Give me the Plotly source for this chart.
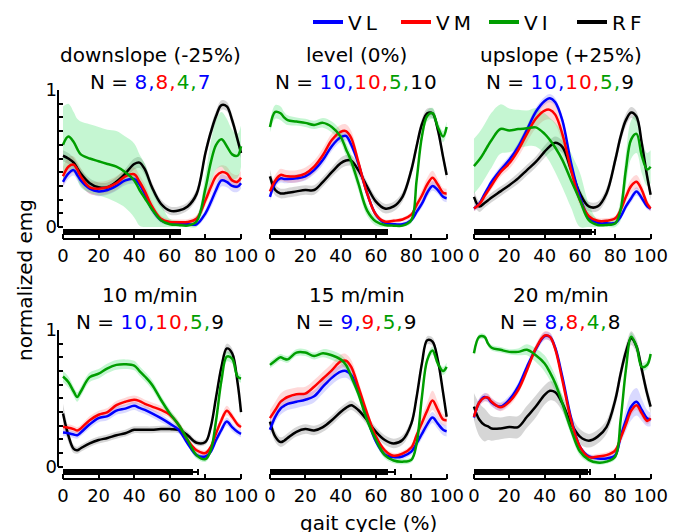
import plotly.graph_objects as go

# ---------------- data ----------------
X = [0, 3, 6, 8, 10, 15, 20, 25, 30, 35, 40, 43, 46, 50, 55, 60, 65, 70, 75, 80, 83, 86, 89, 92, 95, 98, 100]

TITLES = ["downslope (-25%)", "level (0%)", "upslope (+25%)", "10 m/min", "15 m/min", "20 m/min"]
N_COUNTS = [[8, 8, 4, 7], [10, 10, 5, 10], [10, 10, 5, 9], [10, 10, 5, 9], [9, 9, 5, 9], [8, 8, 4, 8]]
MUSCLES = ["VL", "VM", "VI", "RF"]

STANCE_MEAN = [65.7, 66.0, 66.6, 73.2, 67.0, 64.8]
STANCE_SD = [0.3, 0.3, 1.9, 2.8, 3.7, 0.8]

# downslope
DOWN_VL = [.33, .39, .415, .38, .34, .28, .26, .27, .30, .34, .35, .31, .24, .13, .05, .03, .02, .02, .02, .10, .18, .27, .34, .33, .30, .295, .32]
DOWN_VM = [.37, .44, .455, .42, .37, .29, .28, .29, .32, .37, .385, .33, .26, .15, .06, .037, .035, .037, .06, .195, .29, .37, .40, .39, .34, .33, .36]
DOWN_VI = [.60, .66, .62, .57, .53, .50, .48, .46, .44, .40, .34, .27, .21, .13, .05, .02, .015, .01, .04, .28, .47, .60, .64, .59, .53, .52, .59]
DOWN_RF = [.52, .50, .47, .43, .39, .32, .29, .29, .33, .39, .46, .47, .42, .29, .17, .12, .12, .15, .24, .54, .69, .81, .89, .88, .78, .64, .54]
DOWN_VL_SD = [.04, .04, .04, .04, .04, .035, .035, .035, .035, .035, .035, .035, .035, .03, .02, .015, .015, .015, .015, .03, .04, .045, .045, .04, .04, .04, .04]
DOWN_VM_SD = [.07, .07, .06, .06, .06, .05, .05, .05, .05, .05, .05, .05, .05, .04, .025, .02, .02, .02, .025, .04, .05, .05, .05, .05, .05, .05, .05]
DOWN_VI_SD = [.28, .24, .22, .22, .24, .25, .25, .25, .26, .26, .27, .26, .25, .17, .12, .04, .03, .03, .04, .10, .15, .18, .20, .20, .18, .16, .15]
DOWN_RF_SD = [.04, .04, .035, .035, .035, .035, .035, .035, .035, .035, .04, .04, .04, .035, .03, .03, .03, .03, .035, .04, .04, .04, .035, .035, .04, .04, .04]

# level
LEVEL_VL = [.22, .32, .355, .35, .35, .355, .37, .415, .49, .59, .655, .665, .60, .465, .245, .09, .03, .02, .02, .05, .11, .17, .25, .30, .27, .22, .21]
LEVEL_VM = [.26, .34, .38, .375, .37, .37, .39, .44, .525, .635, .695, .70, .65, .475, .245, .09, .04, .045, .055, .09, .16, .23, .31, .36, .31, .25, .245]
LEVEL_VI = [.73, .84, .83, .80, .78, .77, .76, .745, .76, .73, .66, .57, .48, .32, .12, .04, .015, .01, .01, .05, .34, .66, .81, .83, .73, .66, .73]
LEVEL_RF = [.37, .27, .245, .245, .25, .26, .27, .27, .33, .40, .465, .485, .485, .415, .295, .185, .135, .15, .22, .415, .59, .75, .83, .83, .71, .51, .38]
LEVEL_VL_SD = [.03, .03, .03, .03, .03, .03, .03, .03, .035, .035, .035, .035, .035, .03, .03, .02, .015, .015, .015, .02, .025, .03, .035, .035, .03, .03, .03]
LEVEL_VM_SD = [.04, .04, .045, .045, .045, .045, .045, .045, .05, .05, .05, .05, .05, .04, .03, .02, .015, .015, .015, .02, .03, .04, .05, .05, .04, .035, .035]
LEVEL_VI_SD = [.04, .05, .05, .04, .035, .03, .03, .03, .035, .04, .045, .05, .05, .05, .04, .03, .02, .015, .015, .02, .04, .04, .04, .04, .04, .04, .04]
LEVEL_RF_SD = [.05, .04, .035, .035, .035, .035, .035, .035, .035, .035, .04, .04, .04, .04, .035, .035, .035, .035, .035, .04, .04, .04, .035, .035, .04, .04, .04]

# upslope
UP_VL = [.135, .17, .24, .285, .33, .415, .49, .585, .71, .84, .92, .94, .91, .78, .465, .22, .07, .03, .027, .03, .075, .15, .21, .26, .21, .15, .135]
UP_VM = [.135, .165, .225, .265, .305, .40, .465, .56, .68, .79, .85, .855, .82, .68, .415, .195, .08, .045, .045, .063, .125, .22, .30, .33, .27, .17, .135]
UP_VI = [.445, .49, .55, .595, .635, .715, .705, .715, .72, .727, .68, .635, .58, .49, .34, .195, .05, .015, .015, .027, .125, .42, .64, .68, .52, .42, .44]
UP_RF = [.22, .15, .175, .195, .215, .26, .305, .355, .415, .475, .55, .59, .615, .585, .415, .245, .15, .15, .245, .49, .66, .78, .835, .805, .61, .37, .235]
UP_VL_SD = [.02, .02, .025, .025, .025, .03, .03, .03, .03, .03, .03, .03, .03, .03, .03, .025, .02, .015, .015, .015, .02, .025, .03, .03, .025, .02, .02]
UP_VM_SD = [.02, .025, .03, .03, .03, .035, .04, .05, .06, .07, .07, .07, .07, .06, .05, .04, .03, .02, .02, .02, .03, .04, .05, .05, .04, .03, .02]
UP_VI_SD = [.20, .20, .20, .20, .20, .18, .16, .14, .13, .14, .15, .16, .18, .20, .20, .20, .12, .04, .04, .05, .08, .12, .14, .14, .13, .12, .12]
UP_RF_SD = [.05, .04, .035, .035, .035, .035, .035, .04, .04, .04, .045, .045, .045, .045, .04, .035, .035, .035, .04, .045, .045, .045, .04, .04, .04, .04, .04]

# 10 m/min
M10_VL = [.25, .245, .235, .23, .25, .31, .355, .37, .41, .425, .445, .43, .415, .39, .355, .315, .27, .17, .085, .075, .11, .195, .27, .33, .29, .255, .24]
M10_VM = [.29, .285, .275, .265, .28, .34, .38, .40, .45, .475, .49, .48, .46, .44, .415, .38, .305, .195, .12, .10, .145, .245, .34, .41, .365, .31, .29]
M10_VI = [.66, .62, .55, .51, .55, .655, .68, .72, .745, .75, .74, .70, .66, .60, .49, .39, .305, .195, .085, .055, .12, .34, .63, .805, .79, .66, .645]
M10_RF = [.39, .23, .13, .12, .135, .17, .195, .21, .23, .245, .27, .27, .27, .27, .275, .275, .27, .23, .175, .18, .29, .51, .73, .865, .83, .62, .40]
M10_VL_SD = [.025, .025, .025, .025, .025, .03, .03, .03, .03, .03, .03, .03, .03, .03, .03, .025, .025, .02, .02, .02, .02, .025, .03, .03, .03, .025, .025]
M10_VM_SD = [.025, .025, .025, .025, .025, .03, .03, .03, .03, .03, .03, .03, .03, .03, .03, .025, .025, .02, .02, .02, .02, .025, .03, .035, .03, .025, .025]
M10_VI_SD = [.04, .04, .035, .035, .035, .035, .035, .035, .035, .035, .035, .035, .035, .035, .03, .03, .03, .03, .025, .02, .02, .03, .035, .035, .035, .03, .03]
M10_RF_SD = [.07, .05, .03, .025, .025, .025, .025, .025, .025, .025, .025, .025, .025, .025, .025, .025, .025, .025, .02, .02, .025, .03, .035, .035, .035, .035, .035]

# 15 m/min
M15_VL = [.27, .365, .425, .445, .46, .475, .49, .515, .585, .65, .695, .70, .67, .55, .355, .185, .09, .07, .075, .11, .17, .24, .31, .36, .315, .27, .26]
M15_VM = [.355, .415, .475, .495, .51, .53, .535, .585, .645, .705, .77, .775, .73, .585, .39, .22, .12, .08, .095, .14, .23, .32, .41, .485, .415, .345, .34]
M15_VI = [.745, .775, .80, .79, .785, .835, .835, .81, .83, .815, .785, .745, .66, .535, .34, .195, .085, .045, .037, .05, .17, .51, .78, .85, .755, .70, .73]
M15_RF = [.33, .22, .18, .19, .21, .255, .275, .265, .29, .34, .40, .43, .45, .415, .34, .255, .195, .17, .195, .315, .51, .755, .925, .915, .78, .54, .365]
M15_VL_SD = [.04, .04, .045, .045, .045, .045, .045, .045, .05, .05, .05, .05, .05, .04, .03, .025, .02, .02, .02, .025, .03, .035, .04, .04, .04, .04, .04]
M15_VM_SD = [.06, .06, .06, .06, .055, .05, .05, .05, .05, .05, .05, .05, .05, .045, .035, .025, .02, .02, .02, .025, .035, .05, .06, .07, .06, .04, .04]
M15_VI_SD = [.025, .025, .025, .025, .025, .025, .025, .025, .03, .035, .035, .035, .035, .035, .03, .03, .025, .02, .02, .02, .025, .03, .03, .03, .03, .03, .03]
M15_RF_SD = [.04, .04, .035, .035, .035, .035, .035, .035, .035, .035, .035, .035, .035, .035, .035, .035, .035, .035, .035, .035, .035, .035, .03, .03, .03, .03, .03]

# 20 m/min
M20_VL = [.36, .47, .51, .50, .47, .44, .49, .585, .73, .86, .955, .95, .87, .66, .355, .145, .075, .06, .06, .085, .22, .34, .44, .475, .415, .355, .345]
M20_VM = [.365, .47, .505, .505, .475, .435, .475, .56, .705, .865, .96, .95, .86, .635, .34, .145, .07, .075, .085, .12, .21, .31, .41, .45, .39, .335, .355]
M20_VI = [.83, .95, .95, .90, .87, .855, .84, .84, .855, .815, .755, .69, .61, .465, .27, .11, .05, .03, .037, .075, .34, .71, .95, .88, .73, .745, .825]
M20_RF = [.44, .345, .305, .295, .28, .28, .29, .29, .365, .44, .525, .555, .545, .465, .315, .22, .19, .22, .29, .49, .68, .84, .94, .88, .71, .535, .44]
M20_VL_SD = [.03, .03, .03, .03, .03, .03, .03, .03, .03, .03, .03, .03, .03, .03, .03, .02, .02, .02, .02, .025, .05, .08, .10, .10, .08, .06, .05]
M20_VM_SD = [.025, .03, .03, .03, .03, .03, .03, .03, .03, .03, .03, .03, .03, .03, .03, .02, .02, .02, .02, .02, .025, .03, .035, .035, .03, .025, .025]
M20_VI_SD = [.02, .02, .02, .02, .02, .02, .02, .025, .04, .05, .06, .06, .06, .05, .04, .03, .02, .015, .015, .02, .025, .03, .03, .03, .03, .03, .03]
M20_RF_SD = [.10, .12, .12, .10, .09, .08, .08, .08, .08, .08, .07, .07, .07, .06, .06, .055, .05, .05, .05, .05, .05, .05, .05, .05, .05, .05, .05]

MEANS = [
    {"VL": DOWN_VL, "VM": DOWN_VM, "VI": DOWN_VI, "RF": DOWN_RF},
    {"VL": LEVEL_VL, "VM": LEVEL_VM, "VI": LEVEL_VI, "RF": LEVEL_RF},
    {"VL": UP_VL, "VM": UP_VM, "VI": UP_VI, "RF": UP_RF},
    {"VL": M10_VL, "VM": M10_VM, "VI": M10_VI, "RF": M10_RF},
    {"VL": M15_VL, "VM": M15_VM, "VI": M15_VI, "RF": M15_RF},
    {"VL": M20_VL, "VM": M20_VM, "VI": M20_VI, "RF": M20_RF},
]
SDS = [
    {"VL": DOWN_VL_SD, "VM": DOWN_VM_SD, "VI": DOWN_VI_SD, "RF": DOWN_RF_SD},
    {"VL": LEVEL_VL_SD, "VM": LEVEL_VM_SD, "VI": LEVEL_VI_SD, "RF": LEVEL_RF_SD},
    {"VL": UP_VL_SD, "VM": UP_VM_SD, "VI": UP_VI_SD, "RF": UP_RF_SD},
    {"VL": M10_VL_SD, "VM": M10_VM_SD, "VI": M10_VI_SD, "RF": M10_RF_SD},
    {"VL": M15_VL_SD, "VM": M15_VM_SD, "VI": M15_VI_SD, "RF": M15_RF_SD},
    {"VL": M20_VL_SD, "VM": M20_VM_SD, "VI": M20_VI_SD, "RF": M20_RF_SD},
]

# ---------------- styling ----------------
FONT = "DejaVu Sans"
COLORS = {"VL": "#0000ff", "VM": "#ff0000", "VI": "#009e00", "RF": "#000000"}
BANDS = {"VL": "rgba(0,0,255,0.15)", "VM": "rgba(255,0,0,0.15)",
         "VI": "rgba(40,220,90,0.27)", "RF": "rgba(0,0,0,0.16)"}
N_LAST_COLOR = ["#0000ff", "#000000", "#000000", "#000000", "#000000", "#000000"]
DRAW_ORDER = ["RF", "VL", "VM", "VI"]

W, H = 680, 532
COL_PX = [(58, 243.7), (265, 449.3), (469, 653.3)]
ROW_PX = [(90, 239), (330, 479)]
Y_RANGES = [(-0.0876, 1.0), (-0.09, 1.0)]
X_RANGE = (-2.8, 101.5)
STANCE_Y = -0.038

fig = go.Figure()
layout = {}
shapes = []
annotations = []

for i in range(6):
    r, c = divmod(i, 3)
    sfx = "" if i == 0 else str(i + 1)
    xa, ya = "x" + sfx, "y" + sfx
    # bands
    for m in DRAW_ORDER:
        mean, sd = MEANS[i][m], SDS[i][m]
        lo = [max(0.0, a - b) for a, b in zip(mean, sd)]
        hi = [a + b for a, b in zip(mean, sd)]
        fig.add_trace(go.Scatter(x=X, y=lo, xaxis=xa, yaxis=ya, mode="lines",
                                 line=dict(width=0, shape="spline", color=BANDS[m]),
                                 showlegend=False, hoverinfo="skip"))
        fig.add_trace(go.Scatter(x=X, y=hi, xaxis=xa, yaxis=ya, mode="lines",
                                 line=dict(width=0, shape="spline", color=BANDS[m]),
                                 fill="tonexty", fillcolor=BANDS[m],
                                 showlegend=False, hoverinfo="skip"))
    # mean lines
    for m in DRAW_ORDER:
        fig.add_trace(go.Scatter(x=X, y=MEANS[i][m], xaxis=xa, yaxis=ya, mode="lines",
                                 line=dict(width=2.5, shape="spline", color=COLORS[m]),
                                 name=m, showlegend=False))
    # stance bar
    fig.add_trace(go.Bar(x=[STANCE_MEAN[i]], y=[STANCE_Y], base=0, orientation="h",
                         width=0.04, xaxis=xa, yaxis=ya, marker=dict(color="black", line=dict(width=0)),
                         error_x=dict(type="data", array=[STANCE_SD[i]], color="black",
                                      thickness=2, width=3),
                         showlegend=False, hoverinfo="skip"))

    x0, x1 = COL_PX[c]
    y0, y1 = ROW_PX[r]
    xkey = "xaxis" + sfx
    ykey = "yaxis" + sfx
    layout[xkey] = dict(domain=[x0 / W, x1 / W], anchor=ya, range=list(X_RANGE),
                        tickvals=[0, 20, 40, 60, 80, 100], ticks="inside", ticklen=5,
                        tickwidth=1.5, tickcolor="black", showline=False, showgrid=False,
                        zeroline=False, tickfont=dict(family=FONT, size=18, color="black"),
                        ticklabelstandoff=4, automargin=False)
    if c == 0:
        layout[ykey] = dict(domain=[1 - y1 / H, 1 - y0 / H], anchor=xa, range=list(Y_RANGES[r]),
                            tickvals=[0, 1], ticktext=["0", "1"], ticks="inside", ticklen=5,
                            tickwidth=1.5, tickcolor="black", showline=False, showgrid=False,
                            zeroline=False, tickfont=dict(family=FONT, size=18, color="black"),
                            automargin=False,
                            minor=dict(tickmode="array",
                                       tickvals=[0.1, 0.2, 0.3, 0.4, 0.5, 0.6, 0.7, 0.8, 0.9],
                                       ticks="inside", ticklen=5, tickwidth=1.5, tickcolor="black",
                                       showgrid=False))
        shapes.append(dict(type="line", xref=xa + " domain", yref=ya, x0=0, x1=0, y0=0, y1=1,
                           line=dict(color="black", width=2)))
    else:
        layout[ykey] = dict(domain=[1 - y1 / H, 1 - y0 / H], anchor=xa, range=list(Y_RANGES[r]),
                            showticklabels=False, ticks="", showline=False, showgrid=False,
                            zeroline=False, automargin=False)
    shapes.append(dict(type="line", xref=xa, yref=ya + " domain", x0=0, x1=100, y0=0, y1=0,
                       line=dict(color="black", width=2)))

    # titles
    cx = x0 + (49 - X_RANGE[0]) / (X_RANGE[1] - X_RANGE[0]) * (x1 - x0)
    ty = 55 if r == 0 else 295
    ny = 82 if r == 0 else 322
    annotations.append(dict(text=TITLES[i], x=cx / W, y=1 - ty / H, xref="paper", yref="paper",
                            xanchor="center", yanchor="middle", showarrow=False,
                            font=dict(family=FONT, size=20, color="black")))
    n = N_COUNTS[i]
    sp = "letter-spacing:1px;"
    ntxt = ("N = "
            + f'<span style="{sp}color:{COLORS["VL"]}">{n[0]},</span>'
            + f'<span style="{sp}color:{COLORS["VM"]}">{n[1]},</span>'
            + f'<span style="{sp}color:{COLORS["VI"]}">{n[2]},</span>'
            + f'<span style="{sp}color:{N_LAST_COLOR[i]}">{n[3]}</span>')
    annotations.append(dict(text=ntxt, x=cx / W, y=1 - ny / H, xref="paper", yref="paper",
                            xanchor="center", yanchor="middle", showarrow=False,
                            font=dict(family=FONT, size=20, color="black")))

# legend entries
for m in MUSCLES:
    fig.add_trace(go.Scatter(x=[None], y=[None], mode="lines",
                             name=f'<span style="letter-spacing:4px">{m}</span>',
                             line=dict(color=COLORS[m], width=4), showlegend=True))

annotations.append(dict(text="normalized emg", x=25 / W, y=1 - 280 / H, xref="paper", yref="paper",
                        textangle=-90, xanchor="center", yanchor="middle", showarrow=False,
                        font=dict(family=FONT, size=20, color="black")))
annotations.append(dict(text="gait cycle (%)", x=368 / W, y=1 - 523 / H, xref="paper", yref="paper",
                        xanchor="center", yanchor="middle", showarrow=False,
                        font=dict(family=FONT, size=20, color="black")))

fig.update_layout(
    width=W, height=H, margin=dict(l=0, r=0, t=0, b=0, autoexpand=False),
    paper_bgcolor="white", plot_bgcolor="white",
    font=dict(family=FONT, size=18, color="black"),
    showlegend=True,
    legend=dict(orientation="h", x=308 / W, y=1 - 22 / H, xanchor="left", yanchor="middle",
                font=dict(family=FONT, size=20, color="black"), bgcolor="rgba(0,0,0,0)",
                itemwidth=30, entrywidth=43, traceorder="normal"),
    shapes=shapes, annotations=annotations, bargap=0,
    **layout,
)

POST = ("document.documentElement.style.cssText='margin:0;padding:0;overflow:hidden;';"
        "document.body.style.cssText='margin:0;padding:0;overflow:hidden;';"
        "var gd=document.getElementById('{plot_id}');"
        "gd.style.position='fixed';gd.style.left='0px';gd.style.top='0px';")

fig.write_html("out.html", post_script=POST, config={"displayModeBar": False})
